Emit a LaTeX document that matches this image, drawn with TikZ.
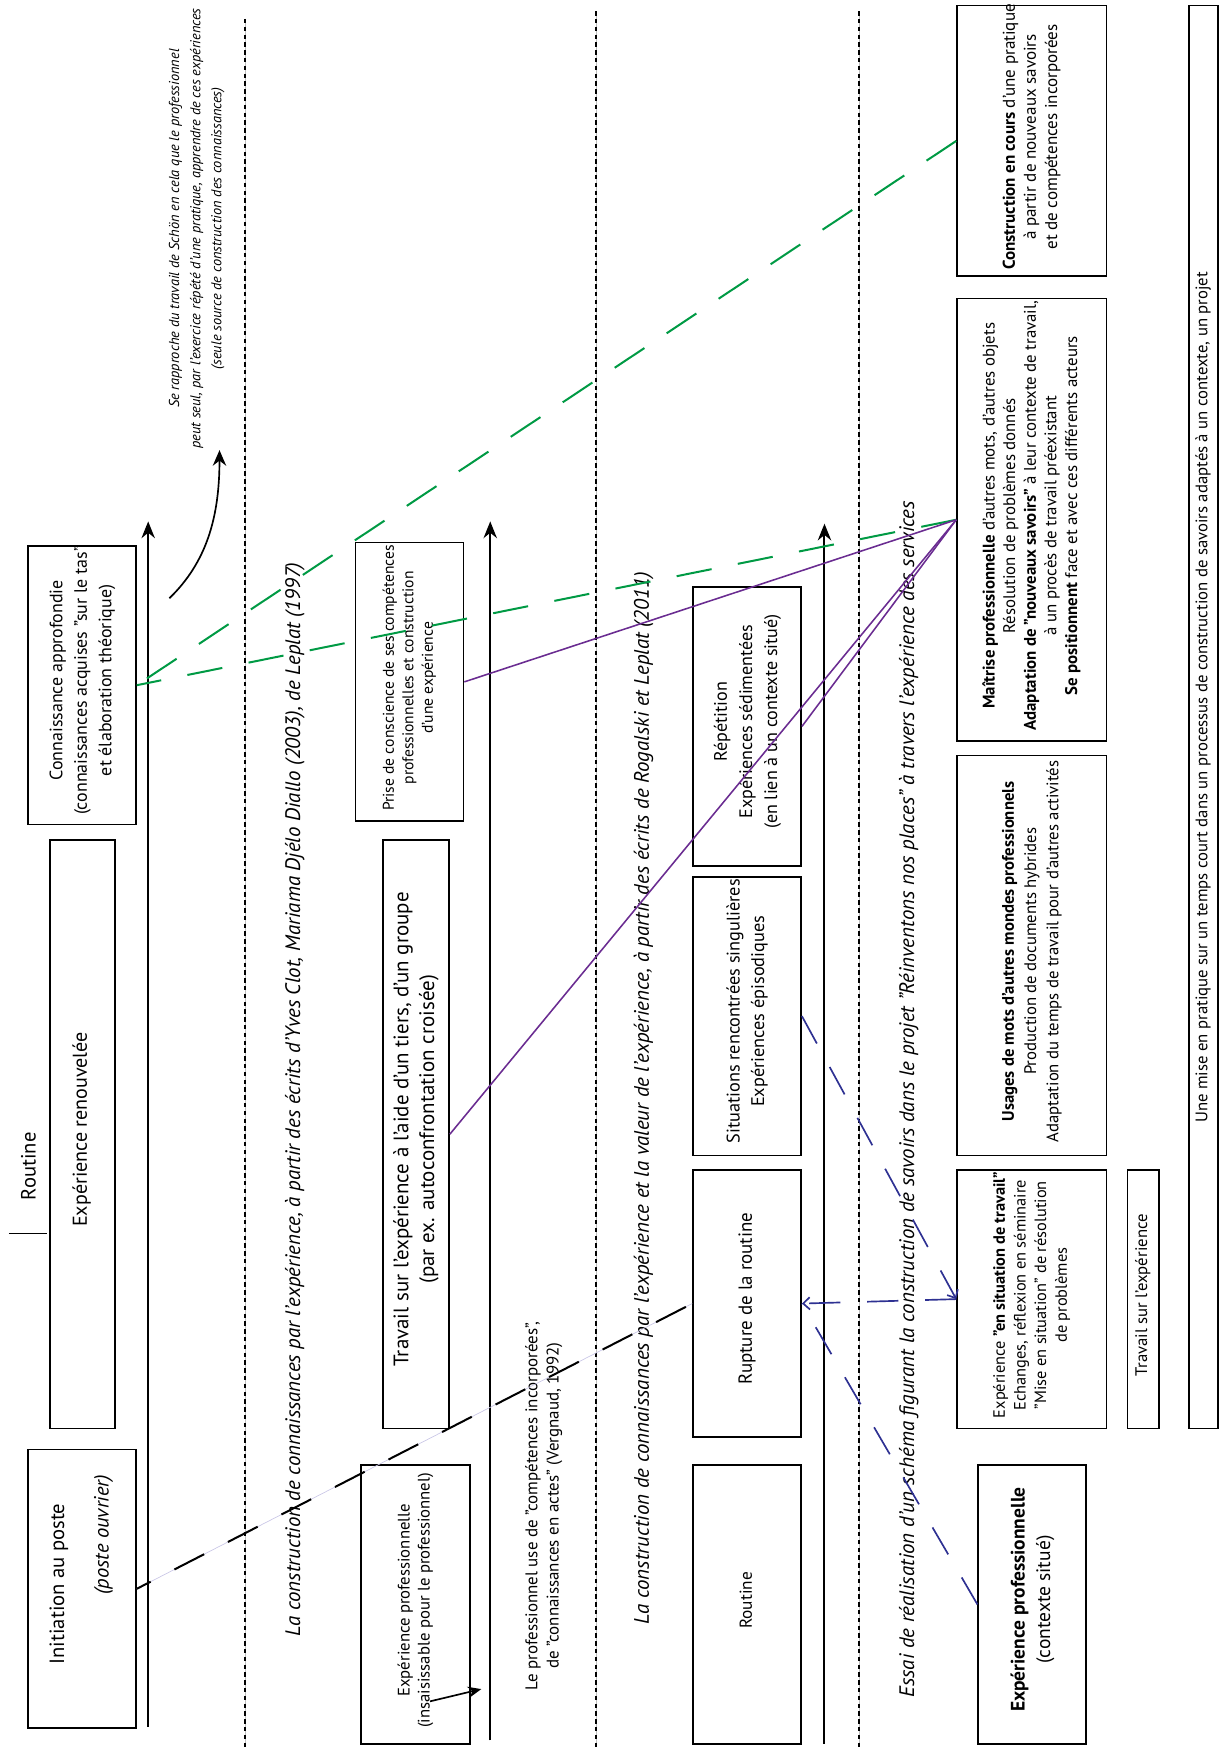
\documentclass[tikz,border=0pt]{standalone}
\usepackage{fontspec}
\setmainfont{PT Sans}
\usepackage{graphicx}
\usetikzlibrary{arrows.meta}
\definecolor{schemagreen}{HTML}{009A44}
\definecolor{schemapurple}{HTML}{6A2C91}
\definecolor{schemanavy}{HTML}{2E3192}
\definecolor{schemalilac}{HTML}{C9C6E6}
% texte tourne de 90 degres, sans encombrement
\newcommand{\vtext}[1]{\smash{\makebox[0pt]{\rotatebox[origin=c]{90}{\begin{tabular}{@{}c@{}}#1\end{tabular}}}}}

\begin{document}
\begin{tikzpicture}[x=1pt, y=-1pt,
    box/.style={draw, line width=1.5pt, inner sep=0pt},
    label/.style={inner sep=0pt},
    title/.style={inner sep=0pt, font=\fontsize{18.8}{22}\selectfont\itshape},
    sepline/.style={line width=1.2pt, dash pattern=on 4pt off 3pt,
                    preaction={draw=black!25, line width=0.5pt, solid}},
    axis/.style={line width=1.8pt, -{Stealth[length=15pt,width=12pt]}},
    blacklink/.style={line width=1.8pt, dash pattern=on 30pt off 24pt, dash phase=16pt,
                      preaction={draw=schemalilac, line width=0.6pt, solid}},
    greenlink/.style={schemagreen, line width=1.8pt, dash pattern=on 32pt off 24pt},
    purplelink/.style={schemapurple, line width=1.4pt},
    navylink/.style={schemanavy, line width=1.5pt, dash pattern=on 28pt off 24pt},
    navytip/.style={-{Straight Barb[length=6pt,width=11pt]}}
  ]
    \useasboundingbox (0,0) rectangle (1099,1568);

    % separations
    \draw[sepline] (220,17) -- (220,1568);
    \draw[sepline] (535,10) -- (535,1568);
    \draw[sepline] (771,10) -- (771,1568);

    % colonne 1
    \node[box, minimum width=97, minimum height=250, font=\fontsize{18.5}{20}\selectfont] (init) at (73.5,1426)
      {\vtext{Initiation au poste\\[20pt] \makebox[0pt]{\hspace{88pt}\itshape (poste ouvrier)}}};
    \node[box, minimum width=58, minimum height=528, font=\fontsize{18}{20}\selectfont] (renouv) at (74,1018)
      {\vtext{Expérience renouvelée}};
    \node[box, minimum width=97, minimum height=250, font=\fontsize{16.1}{22}\selectfont] (connais) at (73.5,615)
      {\vtext{Connaissance approfondie\\(connaissances acquises "sur le tas"\\et élaboration théorique)}};
    \node[label, font=\fontsize{18.5}{20}\selectfont] (routinelbl) at (28,1051) {\vtext{Routine}};
    \draw[line width=1.5pt] (8,1107) -- (42,1107);

    \node[label, font=\fontsize{12.9}{19}\selectfont\itshape] (schoen) at (176,208)
      {\vtext{Se rapproche du travail de Schön en cela que le professionnel\\peut seul, par l'exercice répété d'une pratique, apprendre de ces expériences\\(seule source de construction des connaissances)}};

    \coordinate (axeA0) at (133,1550);
    \coordinate (axeA1) at (133,468);
    \draw[axis] (axeA0) -- (axeA1);

    \coordinate (schoenfrom) at (152,537);
    \coordinate (schoento) at (197,404);
    \draw[line width=1.5pt, -{Stealth[length=14pt,width=12pt]}] (schoenfrom) .. controls (185,505) and (197,465) .. (schoento);

    \node[title] (titreA) at (265,991)
      {\vtext{La construction de connaissances par l'expérience, à partir des écrits d'Yves Clot, Mariama Djélo Diallo (2003), de Leplat (1997)}};

    % colonne 2
    \node[box, minimum width=98, minimum height=250, font=\fontsize{15}{18}\selectfont] (insais) at (373,1440)
      {\vtext{Expérience professionnelle\\(insaisissable pour le professionnel)}};
    \node[box, minimum width=59, minimum height=528, font=\fontsize{18.8}{23}\selectfont] (tiers) at (373.5,1018)
      {\vtext{Travail sur l'expérience à l'aide d'un tiers, d'un groupe\\(par ex. autoconfrontation croisée)}};
    \node[box, minimum width=97, minimum height=250, font=\fontsize{14}{17.5}\selectfont] (prise) at (367.5,612)
      {\vtext{Prise de conscience de ses compétences\\professionnelles et construction\\d'une expérience}};
    \node[label, font=\fontsize{15.2}{19}\selectfont] (vergnaud) at (488,1355)
      {\vtext{Le professionnel use de "compétences incorporées",\\de "connaissances en actes" (Vergnaud, 1992)}};

    \coordinate (axeB0) at (440,1562);
    \coordinate (axeB1) at (440,468);
    \draw[axis] (axeB0) -- (axeB1);

    \coordinate (insaisfrom) at (386,1527);
    \coordinate (insaisto) at (432,1516);
    \draw[line width=1.5pt, -{Stealth[length=12pt,width=10pt]}] (insaisfrom) -- (insaisto);

    \node[title] (titreB) at (578,990)
      {\vtext{La construction de connaissances par l'expérience et la valeur de l'expérience, à partir des écrits de Rogalski et Leplat (2011)}};

    % colonne 3
    \node[box, minimum width=97, minimum height=250, font=\fontsize{15.5}{22}\selectfont] (routine) at (670.5,1440)
      {\vtext{Routine}};
    \node[box, minimum width=97, minimum height=240, font=\fontsize{17}{22}\selectfont] (rupture) at (670.5,1170)
      {\vtext{Rupture de la routine}};
    \node[box, minimum width=97, minimum height=250, font=\fontsize{16.4}{22}\selectfont] (situations) at (670.5,912)
      {\vtext{Situations rencontrées singulières\\Expériences épisodiques}};
    \node[box, minimum width=97, minimum height=250, font=\fontsize{16.2}{22.5}\selectfont] (repetition) at (670.5,652)
      {\vtext{Répétition\\Expériences sédimentées\\(en lien à un contexte situé)}};

    \coordinate (axeC0) at (740,1565);
    \coordinate (axeC1) at (740,470);
    \draw[axis] (axeC0) -- (axeC1);

    \node[title] (titreC) at (816,991)
      {\vtext{Essai de réalisation d'un schéma figurant la construction de savoirs dans le projet "Réinventons nos places" à travers l'expérience des services}};

    % colonne 4
    \node[box, minimum width=97, minimum height=250, font=\fontsize{17.5}{23}\selectfont] (expctx) at (926.5,1440)
      {\vtext{\textbf{Expérience professionnelle}\\(contexte situé)}};
    \node[box, minimum width=134, minimum height=232, font=\fontsize{14.7}{18.5}\selectfont] (expsit) at (926,1166)
      {\vtext{Expérience \textbf{"en situation de travail"}\\Echanges, réflexion en séminaire\\"Mise en situation" de résolution\\de problèmes}};
    \node[box, minimum width=28, minimum height=232, font=\fontsize{15}{18}\selectfont] (travexp) at (1026,1166)
      {\vtext{Travail sur l'expérience}};
    \node[box, minimum width=134, minimum height=359, font=\fontsize{15}{20}\selectfont] (usages) at (926,857.5)
      {\vtext{\textbf{Usages de mots d'autres mondes professionnels}\\Production de documents hybrides\\Adaptation du temps de travail pour d'autres activités}};
    \node[box, minimum width=134, minimum height=397, font=\fontsize{15.1}{18.5}\selectfont] (maitrise) at (926,466.5)
      {\vtext{\textbf{Maîtrise professionnelle} d'autres mots, d'autres objets\\Résolution de problèmes donnés\\\textbf{Adaptation de "nouveaux savoirs"} à leur contexte de travail,\\à un procès de travail préexistant\\\textbf{Se positionnent} face et avec ces différents acteurs}};
    \node[box, minimum width=134, minimum height=243, font=\fontsize{15.3}{19}\selectfont] (construc) at (926,126.5)
      {\vtext{\textbf{Construction en cours} d'une pratique\\à partir de nouveaux savoirs\\et de compétences incorporées}};
    \node[box, minimum width=26, minimum height=1277, font=\fontsize{15}{18}\selectfont] (miseprat) at (1080,643.5)
      {\vtext{\hspace*{28pt}Une mise en pratique sur un temps court dans un processus de construction de savoirs adaptés à un contexte, un projet}};

    % liens
    \draw[blacklink] (init.east) -- (rupture.west);
    \draw[greenlink] (construc.west) -- (connais.east);
    \draw[greenlink] (maitrise.west) -- (connais.east);
    \draw[purplelink] (maitrise.west) -- (prise.east);
    \draw[purplelink] (maitrise.west) -- (tiers.east);
    \draw[purplelink] (maitrise.west) -- (repetition.east);
    \draw[navylink, navytip] (situations.east) -- (expsit.west);
    \draw[navylink, navytip] (expsit.west) -- (rupture.east);
    \draw[navylink] (expctx.west) -- (rupture.east);
  \end{tikzpicture}
\end{document}
